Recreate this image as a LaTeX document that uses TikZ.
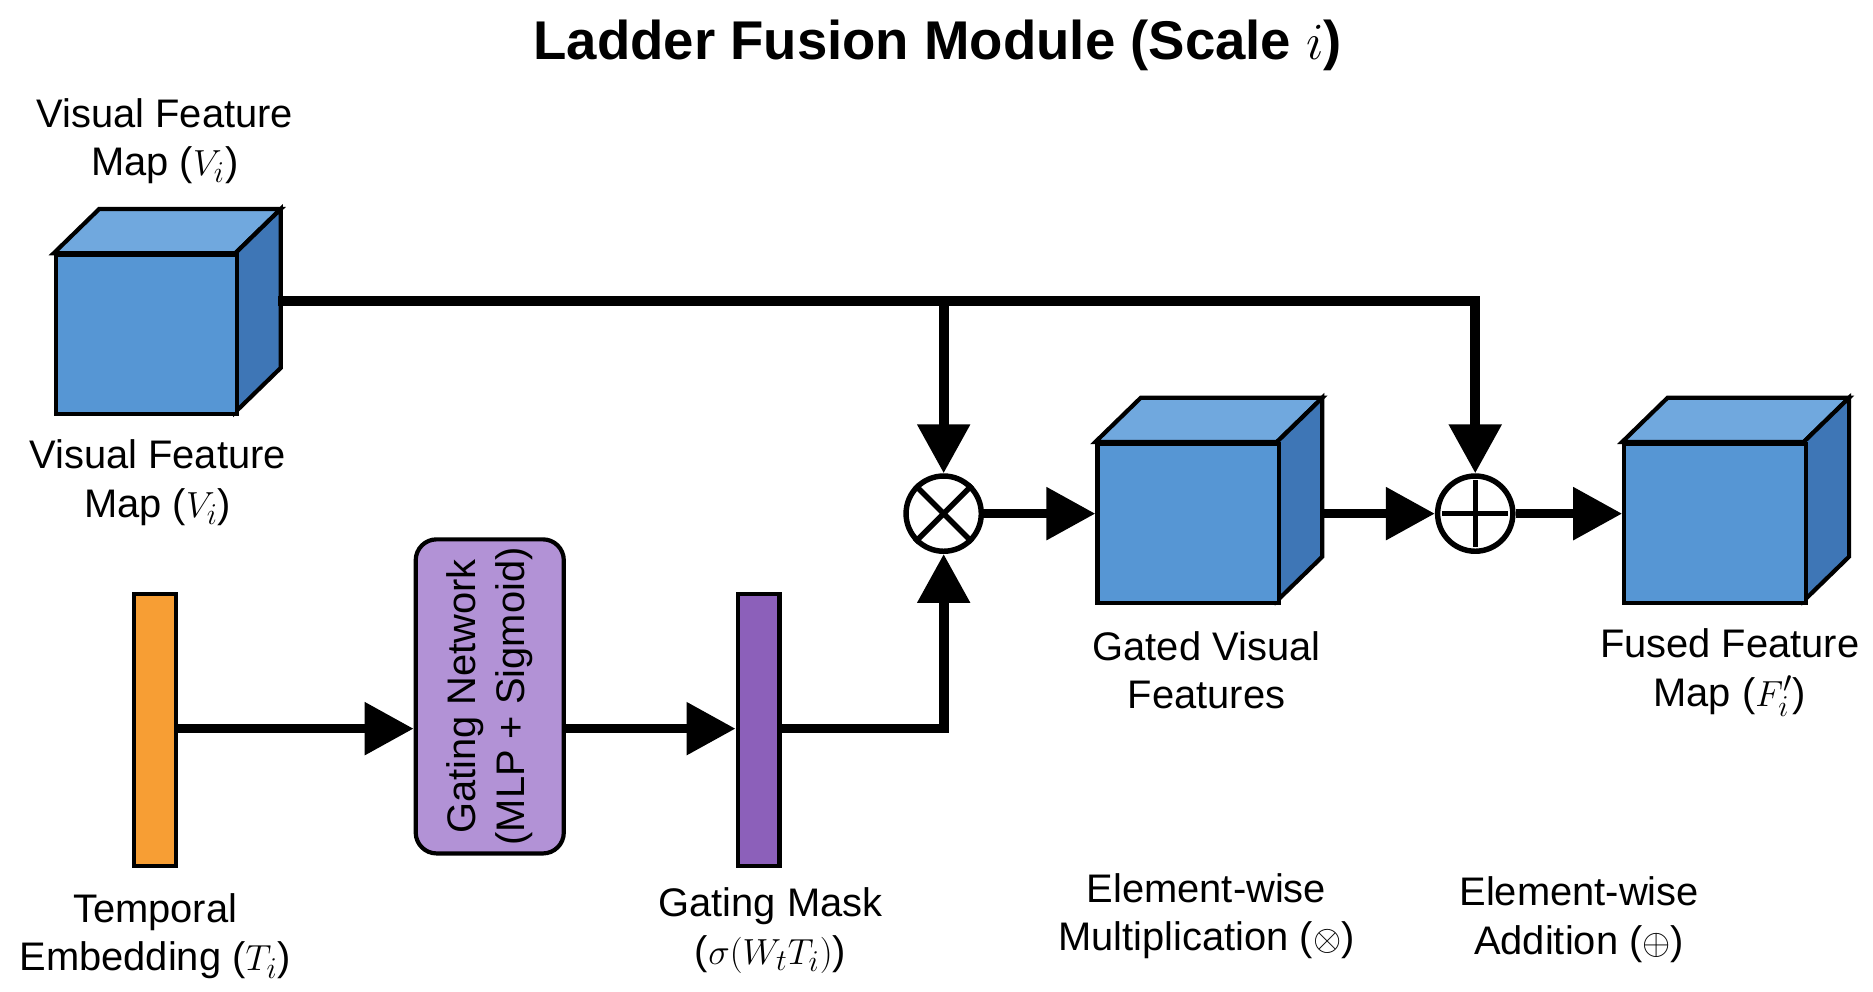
\documentclass[tikz,border=0pt]{standalone}
\usepackage{fontspec}
\setmainfont{Liberation Sans}
\usepackage{tikz}
\usetikzlibrary{positioning,arrows.meta,shapes.misc}
\definecolor{cubefront}{RGB}{86,150,212}
\definecolor{cubetop}{RGB}{112,168,222}
\definecolor{cubeside}{RGB}{62,118,182}
\definecolor{temporal}{RGB}{247,158,52}
\definecolor{gatenet}{RGB}{178,146,214}
\definecolor{gatemask}{RGB}{140,96,186}
\tikzstyle{every path}=[line width=3pt]
\tikzstyle{flow}=[line width=4.6pt, -{Triangle[length=0.82cm,width=0.85cm]}]
\tikzstyle{lbl}=[align=center, font=\fontsize{19}{23}\selectfont]
\tikzstyle{op}=[circle, draw, fill=white, minimum size=1.26cm, inner sep=0pt, line width=2.6pt]
\newcommand{\featcube}[3]{% name, x, y of front top-left
  \fill[cubetop, draw=black, line width=2pt] (#2,#3) -- ++(38,-37) -- ++(152,0) -- ++(-38,37) -- cycle;
  \fill[cubeside, draw=black, line width=2pt] (#2+152,#3) -- ++(38,-37) -- ++(0,133) -- ++(-38,37) -- cycle;
  \node[draw, fill=cubefront, line width=2pt, minimum width=3.04cm, minimum height=2.66cm, anchor=north west] (#1) at (#2,#3) {};
}

\begin{document}
\begin{tikzpicture}[x=0.02cm, y=-0.02cm]
            \useasboundingbox (0,0) rectangle (1568,830);
            \node[font=\fontsize{26}{30}\selectfont\bfseries] (title) at (785,38) {Ladder Fusion Module (Scale $i$)};
            % cubes
            \featcube{vis}{45}{212}
            \featcube{gated}{917}{370}
            \featcube{fused}{1358}{370}
            \node[lbl] (vistop) at (138,118) {Visual Feature\\Map ($V_i$)};
            \node[lbl] (visbot) at (132,404) {Visual Feature\\Map ($V_i$)};
            \node[lbl] (gatedlbl) at (1010,561) {Gated Visual\\Features};
            \node[lbl] (fusedlbl) at (1448,563) {Fused Feature\\Map ($F'_i$)};
            % temporal branch
            \node[draw, fill=temporal, line width=2pt, minimum width=0.7cm, minimum height=4.56cm] (temb) at (130,611) {};
            \node[draw, fill=gatenet, rounded corners=0.35cm, line width=2pt, minimum width=2.48cm, minimum height=5.26cm] (gnet) at (410,583) {};
            \node[lbl, rotate=90] (gnettxt) at (gnet) {Gating Network\\(MLP + Sigmoid)};
            \node[draw, fill=gatemask, line width=2pt, minimum width=0.7cm, minimum height=4.56cm] (gmask) at (635,611) {};
            \node[lbl] (tembl) at (130,784) {Temporal\\Embedding ($T_i$)};
            \node[lbl] (gmaskl) at (645,779) {Gating Mask\\($\sigma(W_tT_i)$)};
            % operators
            \node[op] (mul) at (790,430) {};
            \draw[line width=2.6pt] (mul.north west) -- (mul.south east) (mul.north east) -- (mul.south west);
            \node[op] (add) at (1235,430) {};
            \draw[line width=2.6pt] ([yshift=-0.12cm]add.north) -- ([yshift=0.12cm]add.south) ([xshift=0.12cm]add.west) -- ([xshift=-0.12cm]add.east);
            \node[lbl] (mull) at (1010,767) {Element-wise\\Multiplication ($\otimes$)};
            \node[lbl] (addl) at (1322,770) {Element-wise\\Addition ($\oplus$)};
            % connectors
            \coordinate (split) at (790,252);
            \draw[flow] (233,252) -| (add.north);
            \draw[flow] (split) -- (mul.north);
            \draw[flow] (temb.east |- 0,610) -- (gnet.west |- 0,610);
            \draw[flow] (gnet.east |- 0,610) -- (gmask.west |- 0,610);
            \draw[flow] (gmask.east |- 0,610) -| (mul.south);
            \draw[flow] (mul.east) -- (mul.east -| gated.west);
            \draw[flow] (1108,430) -- (add.west);
            \draw[flow] (add.east) -- (add.east -| fused.west);
        \end{tikzpicture}
\end{document}
